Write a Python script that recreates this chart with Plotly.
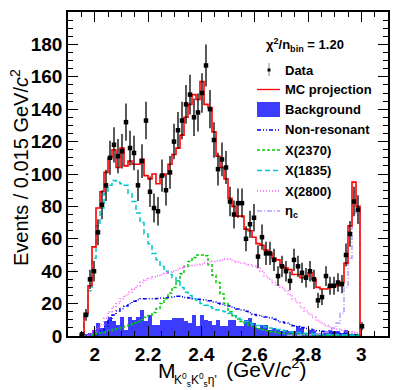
import numpy as np
import plotly.graph_objects as go

# ---------------- binning ----------------
bin_lo = 1.9
bin_w = 0.015

# ---------------- data (events per bin), first bin index 3 ----------------
data_start = 3
data_counts = [1, 13, 35, 40, 64, 81, 93, 110, 118, 111, 114, 132, 116, 113, 93, 108, 133, 89,
               79, 77, 99, 90, 101, 120, 127, 133, 143, 149, 135, 138, 150, 167, 140, 121, 103,
               109, 104, 83, 75, 82, 82, 60, 69, 73, 49, 61, 51, 51, 47, 37, 43, 40, 34, 47,
               43, 39, 36, 40, 35, 22, 24, 37, 31, 31, 33, 32, 50, 63, 83, 78, 6]

# MC projection, first bin index 3
mc_start = 3
mc_counts = [1, 14, 31, 55, 79, 89, 101, 110, 115, 104, 116, 105, 108, 106, 106, 109, 99, 97,
             100, 94, 99, 100, 106, 112, 116, 124, 135, 143, 149, 146, 157, 143, 141, 126, 111,
             104, 97, 85, 80, 74, 74, 66, 65, 61, 57, 56, 53, 51, 48, 47, 43, 42, 41, 38,
             38, 36, 37, 39, 35, 30, 29, 29, 30, 31, 31, 33, 45, 68, 95, 80]

# Background, first bin index 4
bkg_start = 4
bkg_counts = [1, 2, 4, 8, 5, 9, 12, 9, 7, 12, 4, 12, 10, 12, 16, 9, 13, 7, 7, 10, 10, 10, 11,
              11, 11, 9, 8, 13, 6, 13, 10, 9, 7, 10, 6, 6, 10, 10, 6, 6, 10, 11, 8, 5, 7, 7,
              4, 5, 4, 3, 4, 3, 3, 6, 5, 2, 4, 3, 2, 2, 3, 4, 3, 3, 2, 4, 1, 1, 1]

# Non-resonant, first bin index 7
nonres_start = 7
nonres_counts = [1, 3, 6, 9.5, 13, 15.5, 17, 18.5, 20, 21.5, 22.4, 23, 23, 23, 23, 23.2, 23.4,
                 23.6, 24, 24.2, 24.5, 24.3, 23.8, 23.4, 23, 22.7, 22.4, 22.2, 21.8, 21, 20.2,
                 19.6, 19, 18.5, 17.5, 16.7, 16, 15.3, 14.3, 13.3, 12.7, 12.2, 11.7, 11.2, 10.3,
                 9.4, 8.6, 8, 7.2, 6.4, 5.8, 5.2, 4.6, 4.2, 3.7, 3.3, 3, 2.6, 2.3, 2, 1.8, 1.5,
                 1.3, 1.1, 0.9, 0.7]

# X(2370), first bin index 6
x2370_start = 6
x2370_counts = [1, 1.5, 2, 2.5, 3.2, 4, 4.5, 5.3, 6, 7, 8, 9, 10, 11.5, 12.7, 14.5, 17, 20, 23,
                26.5, 30, 34, 38.5, 43, 46, 48.5, 50, 50, 49.5, 44, 37.5, 33, 26, 20, 15, 12.5,
                10.5, 9, 8, 6.5, 5.3, 4.5, 3.8, 3.2, 2.7, 2.3, 1.9, 1.6, 1.4, 1.2, 1.1, 1.0,
                0.9, 0.8, 0.7, 0.6, 0.6, 0.5, 0.5, 0.5, 0.5, 0.5, 0.5, 0.5, 0.5, 0.5, 0.5]

# X(1835), first bin index 4
x1835_start = 4
x1835_counts = [13, 28, 48, 68, 79, 88, 93, 96, 95, 94, 93, 88, 83, 76, 70, 63, 57, 51, 47, 43,
                40, 38, 36, 34, 30, 27, 25, 23, 22, 20, 19, 18, 17, 16, 15.5, 15, 14, 12.5, 11,
                10, 9, 8, 7, 6.5, 6, 5.5, 5, 4.5, 4, 3.5, 3, 2.7, 2.4, 2.1, 1.9, 1.7, 1.5, 1.3,
                1.2, 1.1, 1, 0.9, 0.8, 0.7, 0.7, 0.6, 0.6, 0.5, 0.5]

# X(2800), first bin index 5
x2800_start = 5
x2800_counts = [1, 3, 5, 7, 11, 15, 18, 20, 23, 25, 27, 29, 31, 33, 34.5, 35.5, 36.5, 37, 38,
                38.8, 39.5, 40, 41, 42, 42.6, 43, 43.5, 44, 44.3, 45, 45.5, 46, 46.5, 47, 47.5,
                47.7, 46.5, 45.5, 45, 44.5, 44, 43, 42, 40, 37, 35, 33, 31.5, 30, 28, 25.5, 23,
                20.5, 17.5, 15.5, 13.5, 11.5, 9.5, 8, 6.5, 5.5, 4.7, 4.2, 3.6, 3, 2.6, 2.3, 2]

# eta_c, first bin index 55
etac_start = 55
etac_counts = [0.3, 0.4, 0.5, 0.6, 0.7, 0.8, 1, 1.3, 1.7, 2.3, 3.5, 5, 8, 14, 30, 48, 76, 78]

# axis ticks
x_ticks = [2.0, 2.2, 2.4, 2.6, 2.8, 3.0]
x_ticklabels = ["2", "2.2", "2.4", "2.6", "2.8", "3"]
y_ticks = [0, 20, 40, 60, 80, 100, 120, 140, 160, 180]
y_ticklabels = [str(v) for v in y_ticks]

legend_labels = ["Data", "MC projection", "Background", "Non-resonant",
                 "X(2370)", "X(1835)", "X(2800)", "η<sub>c</sub>"]
chi2_text = "χ<sup>2</sup>/n<sub>bin</sub> = 1.20"

# ---------------- helpers ----------------
def centers(start, n):
    return [bin_lo + bin_w * (start + i + 0.5) for i in range(n)]


def step_xy(start, vals):
    edges = [bin_lo + bin_w * (start + i) for i in range(len(vals) + 1)]
    xs = [edges[0]] + edges[:-1] + [edges[-1]]
    ys = [0] + list(vals) + [0]
    return xs, ys


FONT = "Liberation Sans, Arial, Helvetica, sans-serif"

fig = go.Figure()

# background filled histogram
fig.add_trace(go.Bar(x=centers(bkg_start, len(bkg_counts)), y=bkg_counts, width=bin_w,
                     marker=dict(color="#3c3cff", line=dict(width=0)), showlegend=False))

comp_styles = [
    (nonres_start, nonres_counts, "#0000ee", "4px,2px,1px,2px,1px,2px"),
    (x2370_start, x2370_counts, "#00cc00", "3px,2px"),
    (x1835_start, x1835_counts, "#00c8c8", "5px,3px"),
    (x2800_start, x2800_counts, "#ff55ff", "1px,2px"),
    (etac_start, etac_counts, "#b899ff", "5px,2px,1px,2px"),
]
for st, vals, col, dash in comp_styles:
    xs, ys = step_xy(st, vals)
    fig.add_trace(go.Scatter(x=xs, y=ys, mode="lines", line=dict(color=col, width=1.5, dash=dash, shape="hv"),
                             showlegend=False, hoverinfo="skip"))

# MC projection
xs, ys = step_xy(mc_start, mc_counts)
fig.add_trace(go.Scatter(x=xs, y=ys, mode="lines", line=dict(color="#ff0000", width=1.6, shape="hv"),
                         showlegend=False))

# data points with Poisson errors
dc = np.array(data_counts, dtype=float)
fig.add_trace(go.Scatter(x=centers(data_start, len(data_counts)), y=dc, mode="markers",
                         marker=dict(color="black", size=4.5, symbol="square"),
                         error_y=dict(type="data", array=np.sqrt(dc), color="black", thickness=1.3, width=0),
                         showlegend=False))

# ---------------- layout ----------------
# the page body adds an 8px offset, so the figure is drawn 8px smaller and margins shifted
OFF = 8
W, H = 402 - OFF, 390 - OFF
L, R, T, B = 68 - OFF, 14, 12 - OFF, 62 - OFF
pw, ph = W - L - R, H - T - B


# helpers take pixel positions measured on the reference picture
def px(x):
    return (x - 68) / pw


def py(y):
    return (328 - y) / ph


tickfont = dict(family=FONT, size=19, color="black", weight="bold")
fig.update_layout(
    width=W, height=H, margin=dict(l=L, r=R, t=T, b=B, autoexpand=False),
    paper_bgcolor="white", plot_bgcolor="white", bargap=0, showlegend=False,
    xaxis=dict(range=[1.9, 3.1], tickvals=x_ticks, ticktext=x_ticklabels, ticks="inside", ticklen=10,
               tickwidth=1, tickcolor="black", showline=True, linecolor="black", linewidth=1.5,
               mirror="ticks", showgrid=False, zeroline=False, tickfont=tickfont, automargin=False,
               minor=dict(dtick=0.05, tick0=1.9, ticks="inside", ticklen=5, tickcolor="black", showgrid=False)),
    yaxis=dict(range=[0, 200], tickvals=y_ticks, ticktext=y_ticklabels, ticks="inside", ticklen=10,
               tickwidth=1, tickcolor="black", showline=True, linecolor="black", linewidth=1.5,
               mirror="ticks", showgrid=False, zeroline=False, tickfont=tickfont, automargin=False,
               minor=dict(dtick=5, tick0=0, ticks="inside", ticklen=5, tickcolor="black", showgrid=False)),
)

annotations = []
# axis titles
annotations.append(dict(text="Events / 0.015 GeV/<i>c</i><sup>2</sup>", x=px(19), y=py(160), xref="paper",
                        yref="paper", textangle=-90, showarrow=False, xanchor="center", yanchor="middle",
                        font=dict(family=FONT, size=20, color="black")))
annotations.append(dict(text="M", x=px(155.5), y=py(362), xref="paper", yref="paper", showarrow=False,
                        xanchor="left", yanchor="middle", font=dict(family=FONT, size=21, color="black")))
annotations.append(dict(text="K<sup>0</sup><sub>s</sub>K<sup>0</sup><sub>s</sub>η'", x=px(171.5), y=py(372),
                        xref="paper", yref="paper", showarrow=False, xanchor="left", yanchor="middle",
                        font=dict(family=FONT, size=12, color="black")))
annotations.append(dict(text="(GeV/<i>c</i><sup>2</sup>)", x=px(224), y=py(360), xref="paper", yref="paper",
                        showarrow=False, xanchor="left", yanchor="middle",
                        font=dict(family=FONT, size=21, color="black")))
# chi2
annotations.append(dict(text=chi2_text, x=px(264), y=py(37), xref="paper", yref="paper", showarrow=False,
                        xanchor="left", yanchor="middle", font=dict(family=FONT, size=13, color="black", weight="bold")))

leg_y = [62, 81.5, 101.5, 122, 142, 162.5, 183, 203]
for lab, yy in zip(legend_labels, leg_y):
    annotations.append(dict(text=lab, x=px(283), y=py(yy), xref="paper", yref="paper", showarrow=False,
                            xanchor="left", yanchor="middle",
                            font=dict(family=FONT, size=13, color="black", weight="bold")))
fig.update_layout(annotations=annotations)

shapes = []
# data legend symbol
shapes.append(dict(type="line", xref="paper", yref="paper", x0=px(269), x1=px(269), y0=py(55), y1=py(68),
                   line=dict(color="#888888", width=1)))
shapes.append(dict(type="rect", xref="paper", yref="paper", x0=px(267.5), x1=px(270.5), y0=py(60.5), y1=py(63.5),
                   fillcolor="black", line=dict(color="black", width=0)))
# MC
shapes.append(dict(type="line", xref="paper", yref="paper", x0=px(257), x1=px(280), y0=py(leg_y[1]), y1=py(leg_y[1]),
                   line=dict(color="#ff0000", width=1.3)))
# background box
shapes.append(dict(type="rect", xref="paper", yref="paper", x0=px(257), x1=px(280), y0=py(94), y1=py(109),
                   fillcolor="#3c3cff", line=dict(width=0)))
for (st, vals, col, dash), yy in zip(comp_styles, leg_y[3:]):
    shapes.append(dict(type="line", xref="paper", yref="paper", x0=px(257), x1=px(280), y0=py(yy), y1=py(yy),
                       line=dict(color=col, width=1.3, dash=dash)))
fig.update_layout(shapes=shapes)

fig.write_html("out.html")
